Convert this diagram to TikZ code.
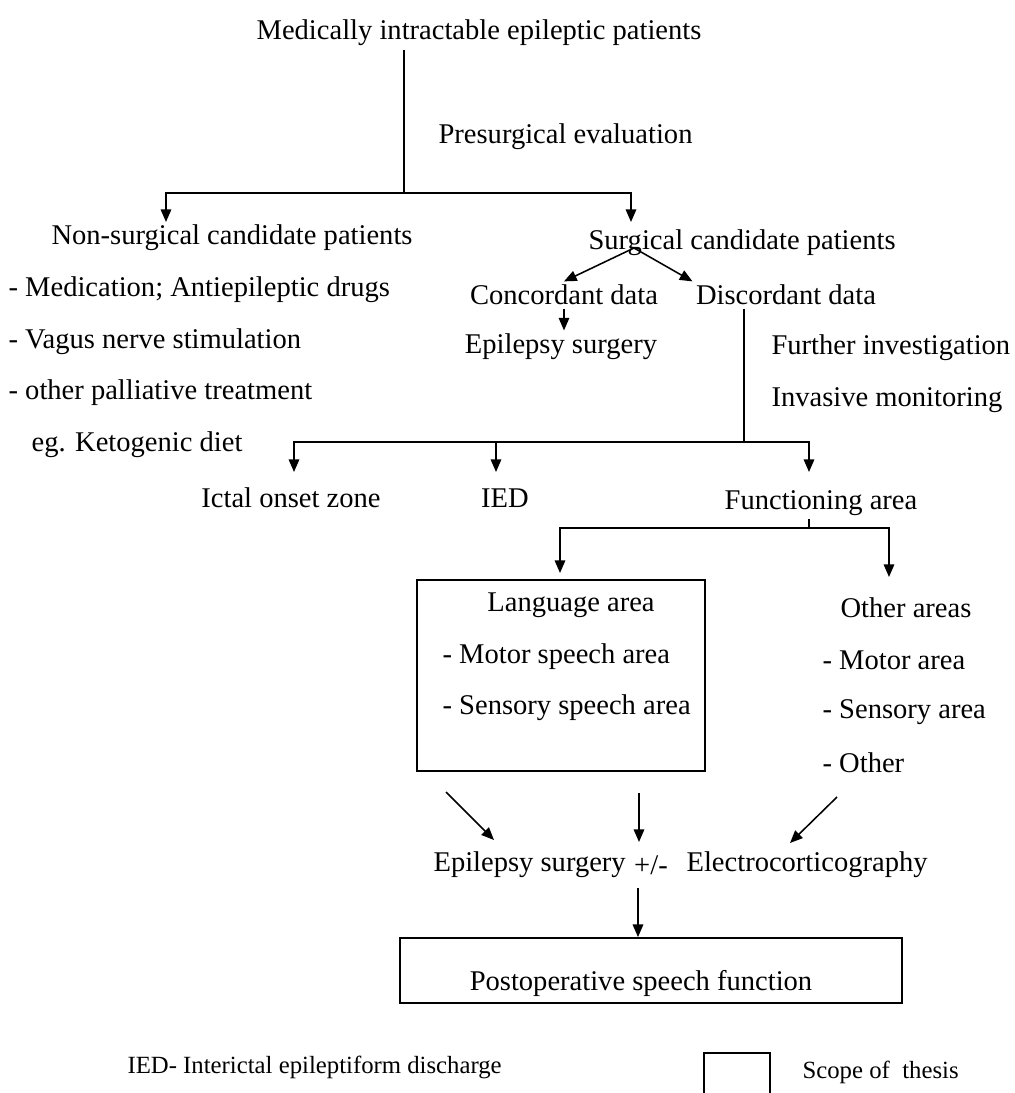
\documentclass[tikz,border=0pt]{standalone}
\usepackage{fontspec}
\setmainfont{Liberation Serif}
\usetikzlibrary{positioning, arrows, arrows.meta, calc}

\begin{document}
\begin{tikzpicture}[x=0.025cm, y=-0.025cm, >={Triangle[length=9pt, width=7.5pt]}, line width=1.1pt,
    every node/.style={font=\fontsize{20.3}{24}\selectfont, inner sep=2pt},
    lbl/.style={anchor=west},
    note/.style={anchor=west, font=\fontsize{17.6}{21}\selectfont},
    box/.style={draw, line width=1.3pt}]
    \useasboundingbox (0,0) rectangle (1014,1093);

    % top of the tree
    \node (mip) at (479,33) {Medically intractable epileptic patients};
    \node[lbl] (pse) at (435,137) {Presurgical evaluation};
    \node[lbl] (nsc) at (48,238) {Non-surgical candidate patients};
    \node[lbl] (sc) at (585,243) {Surgical candidate patients};

    % non-surgical options
    \node[lbl] (med) at (5,290) {- Medication; Antiepileptic drugs};
    \node[lbl] (vns) at (5,342) {- Vagus nerve stimulation};
    \node[lbl] (opt) at (5,393) {- other palliative treatment};
    \node[lbl] (keto) at (28,445) {eg. Ketogenic diet};

    % surgical branch
    \node (cd) at (564,295) {Concordant data};
    \node (dd) at (786,295) {Discordant data};
    \node (es1) at (561,347) {Epilepsy surgery};
    \node[lbl] (fi) at (768,348) {Further investigation};
    \node[lbl] (im) at (768,400) {Invasive monitoring};

    \node (ioz) at (291,498) {Ictal onset zone};
    \node (ied) at (505,498) {IED};
    \node (fa) at (821,503) {Functioning area};

    % language area box
    \node[box, minimum width=7.2cm, minimum height=4.775cm] (lang) at (561,675.5) {};
    \node (la) at (571,605) {Language area};
    \node[lbl] (msa) at (439,657) {- Motor speech area};
    \node[lbl] (ssa) at (439,708) {- Sensory speech area};

    \node (oa) at (906,608) {Other areas};
    \node[lbl] (ma) at (819,660) {- Motor area};
    \node[lbl] (sa) at (819,712) {- Sensory area};
    \node[lbl] (oth) at (819,763) {- Other};

    \node[lbl] (es2) at (430,865) {Epilepsy surgery};
    \node (pm) at (651,865) {+/-};
    \node[lbl] (ecog) at (683,865) {Electrocorticography};

    \node[box, minimum width=12.55cm, minimum height=1.625cm] (postbox) at (651,970.5) {};
    \node (post) at (641,983) {Postoperative speech function};

    % legend
    \node[note] (foot) at (124,1067) {IED- Interictal epileptiform discharge};
    \node[box, minimum width=1.65cm, minimum height=2.5cm] (legend) at (737,1103) {};
    \node[note] (scope) at (799,1072) {Scope of\ \ thesis};

    \coordinate (sp1) at (404,193);
    \coordinate (nsTop) at (166,222);
    \coordinate (scTop) at (631,222);
    \coordinate (scFork) at (634,248);
    \coordinate (sp2) at (744,442);
    \coordinate (iozTop) at (294,472);
    \coordinate (iedTop) at (496,472);
    \coordinate (faTop) at (809,472);
    \coordinate (sp3) at (809,528);
    \coordinate (langTop) at (560,573);
    \coordinate (oaTop) at (889,577);
    \coordinate (a1s) at (446,792);
    \coordinate (a1e) at (494,840);
    \coordinate (a2s) at (639,793);
    \coordinate (a2e) at (639,842);
    \coordinate (a3s) at (837,797);
    \coordinate (a3e) at (790,843);
    \coordinate (a4s) at (638,888);

    \draw (mip.south -| sp1) -- (sp1);
    \draw[->] (sp1) -| (nsTop);
    \draw[->] (sp1) -| (scTop);
    \draw[->] (scFork) -- (cd.north);
    \draw[->] (scFork) -- (dd.north west);
    \draw[->] (cd.south) -- (cd.south |- es1.north);
    \draw (dd.south -| sp2) -- (sp2);
    \draw[->] (sp2) -| (iozTop);
    \draw[->] (sp2) -| (faTop);
    \draw[->] (iedTop |- sp2) -- (iedTop);
    \draw (fa.south -| sp3) -- (sp3);
    \draw[->] (sp3) -| (langTop);
    \draw[->] (sp3) -| (oaTop);
    \draw[->] (a1s) -- (a1e);
    \draw[->] (a2s) -- (a2e);
    \draw[->] (a3s) -- (a3e);
    \draw[->] (a4s) -- (a4s |- postbox.north);
\end{tikzpicture}
\end{document}
